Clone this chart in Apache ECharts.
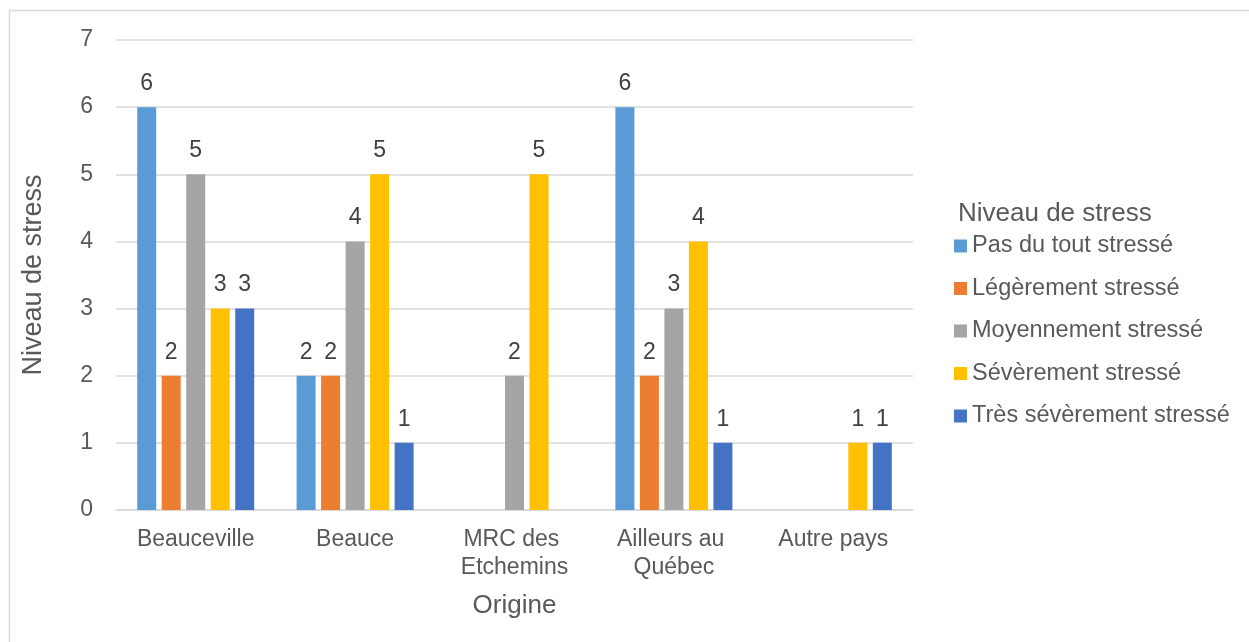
<!DOCTYPE html>
<html><head><meta charset="utf-8">
<script src="https://cdn.jsdelivr.net/npm/echarts@6/dist/echarts.min.js"></script>
<style>html,body{margin:0;padding:0;background:#fff}#c{width:1249px;height:642px}</style>
</head><body><div id="c"></div>
<script>
var categories = ['Beauceville', 'Beauce', 'MRC des Etchemins', 'Ailleurs au Québec', 'Autre pays'];
var seriesNames = ['Pas du tout stressé', 'Légèrement stressé', 'Moyennement stressé', 'Sévèrement stressé', 'Très sévèrement stressé'];
var pasDuTout = [6, 2, null, 6, null];
var legerement = [2, 2, null, 2, null];
var moyennement = [5, 4, 2, 3, null];
var severement = [3, 5, 5, 4, 1];
var tresSeverement = [3, 1, null, 1, 1];
var yTicks = [0, 1, 2, 3, 4, 5, 6, 7];
var colors = ['#5B9BD5', '#ED7D31', '#A5A5A5', '#FFC000', '#4472C4'];

var font = 'Liberation Sans, Arial, sans-serif';
var txt = '#595959';
var allData = [pasDuTout, legerement, moyennement, severement, tresSeverement];
var chart = echarts.init(document.getElementById('c'), null, {renderer: 'canvas'});
chart.setOption({
  animation: false,
  textStyle: {fontFamily: font},
  graphic: [{type: 'rect', shape: {x: 9.5, y: 10.5, width: 1400, height: 800}, style: {fill: 'none', stroke: '#d9d9d9', lineWidth: 1.5}, z: -1}],
  title: {text: 'Niveau de stress', left: 958, top: 201, padding: 0, textStyle: {fontFamily: font, fontSize: 26, fontWeight: 'normal', color: txt}},
  legend: {
    orient: 'vertical', left: 954, top: 234, padding: 0, icon: 'rect', itemWidth: 13, itemHeight: 13, itemGap: 18.5,
    textStyle: {fontFamily: font, fontSize: 23.5, color: txt, lineHeight: 24},
    data: seriesNames
  },
  grid: {left: 116, right: 336, top: 40, bottom: 132},
  xAxis: {
    type: 'category', data: categories,
    name: 'Origine', nameLocation: 'middle', nameGap: 83,
    nameTextStyle: {fontFamily: font, fontSize: 26, color: txt},
    axisLine: {lineStyle: {color: '#d9d9d9', width: 1.5}},
    axisTick: {show: false},
    axisLabel: {fontFamily: font, fontSize: 23, color: txt, margin: 16, width: 130, overflow: 'break', lineHeight: 28, interval: 0}
  },
  yAxis: {
    type: 'value', min: 0, max: 7, interval: 1,
    name: 'Niveau de stress', nameLocation: 'middle', nameGap: 69,
    nameTextStyle: {fontFamily: font, fontSize: 27, color: txt},
    axisLine: {show: false}, axisTick: {show: false},
    splitLine: {lineStyle: {color: '#d9d9d9', width: 1.5}},
    axisLabel: {fontFamily: font, fontSize: 23, color: txt, margin: 23,
      formatter: function (v) { return yTicks.indexOf(v) >= 0 ? String(v) : ''; }}
  },
  series: seriesNames.map(function (n, i) {
    return {
      name: n, type: 'bar', data: allData[i], barWidth: 19, barGap: '29%',
      itemStyle: {color: colors[i]},
      label: {show: true, position: 'top', distance: 12, fontFamily: font, fontSize: 23, color: '#404040'}
    };
  })
});
</script></body></html>
